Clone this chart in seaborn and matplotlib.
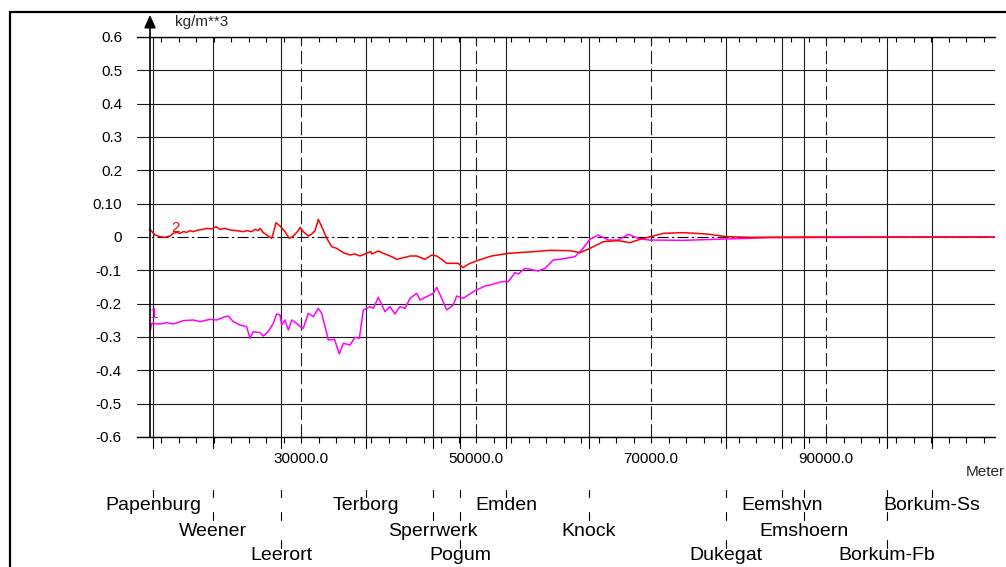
import numpy as np
import pandas as pd
import matplotlib
matplotlib.use("Agg")
import matplotlib.pyplot as plt
import matplotlib.transforms as mtransforms
from matplotlib.lines import Line2D
import seaborn as sns

# ---------------- data ----------------
red_x = [12740, 13310, 13890, 14460, 15030, 15410, 15790, 16170, 16550, 16940,
         17310, 17690, 18260, 18830, 19220, 19790, 20290, 20740, 21310, 21890,
         22650, 23410, 23790, 24370, 24740, 25120, 25310, 25690, 26260, 26650,
         26830, 27140, 27600, 28170, 28660, 29120, 29690, 29890, 30260, 30830,
         31220, 31600, 31980, 32370, 32940, 33510, 34080, 34830, 35600, 36170,
         36740, 37310, 37970, 38080, 38830, 39600, 40370, 40940, 41890, 42460,
         43220, 44170, 44940, 45510, 46080, 46650, 47980, 48480, 49310, 51030,
         51790, 53690, 56550, 58460, 60740, 61890, 63030, 64550, 66230, 67600,
         68740, 70260, 71410, 73690, 76370, 78650, 81310, 87030, 98460, 109310]
red_y = [0.023, 0.006, 0.001, -0.001, 0.003, 0.011, 0.014, 0.011, 0.016, 0.014,
         0.019, 0.016, 0.021, 0.023, 0.026, 0.024, 0.031, 0.023, 0.026, 0.021,
         0.019, 0.016, 0.019, 0.016, 0.023, 0.019, 0.026, 0.013, 0.003, -0.004,
         0.011, 0.043, 0.033, 0.016, -0.004, 0.003, 0.019, 0.029, 0.016, 0.003,
         0.009, 0.019, 0.053, 0.031, -0.004, -0.029, -0.034, -0.047, -0.054, -0.051,
         -0.057, -0.051, -0.044, -0.051, -0.042, -0.051, -0.059, -0.067, -0.061, -0.057,
         -0.057, -0.067, -0.054, -0.057, -0.067, -0.079, -0.079, -0.092, -0.079, -0.063,
         -0.057, -0.049, -0.044, -0.040, -0.041, -0.047, -0.034, -0.014, -0.011, -0.017,
         -0.007, 0.003, 0.011, 0.013, 0.009, 0.001, -0.001, 0.0, 0.0, 0.0]

mag_x = [12740, 12940, 13890, 14650, 15410, 16550, 17690, 18460, 19600, 20370,
         21120, 21690, 22260, 23030, 23790, 24170, 24550, 25310, 25690, 26260,
         26830, 27220, 27600, 27790, 28170, 28550, 28940, 29510, 29890, 30260,
         30830, 31410, 31980, 32370, 33120, 33830, 34380, 34830, 35600, 36170,
         36670, 37120, 37890, 38270, 38830, 39600, 40170, 40740, 41310, 41890,
         42460, 43220, 43600, 44360, 45120, 45510, 46080, 46650, 47410, 47790,
         48550, 49690, 51030, 51600, 52940, 53690, 54460, 54830, 55600, 57120,
         57890, 58830, 59790, 61310, 62080, 63030, 63980, 65120, 66260, 67410,
         68550, 69690, 73660, 78570, 83600, 92740, 109310]
mag_y = [-0.284, -0.259, -0.261, -0.257, -0.261, -0.251, -0.249, -0.254, -0.247, -0.249,
         -0.241, -0.237, -0.254, -0.264, -0.269, -0.304, -0.284, -0.287, -0.297, -0.284,
         -0.259, -0.231, -0.234, -0.264, -0.249, -0.279, -0.249, -0.259, -0.269, -0.274,
         -0.229, -0.239, -0.214, -0.229, -0.309, -0.307, -0.351, -0.319, -0.324, -0.301,
         -0.304, -0.219, -0.209, -0.214, -0.181, -0.224, -0.209, -0.231, -0.209, -0.214,
         -0.184, -0.169, -0.189, -0.179, -0.169, -0.151, -0.184, -0.219, -0.204, -0.177,
         -0.184, -0.164, -0.147, -0.144, -0.134, -0.134, -0.107, -0.111, -0.094, -0.102,
         -0.094, -0.069, -0.066, -0.059, -0.039, -0.007, 0.006, -0.009, -0.009, 0.008,
         -0.004, -0.009, -0.010, -0.006, -0.002, -0.001, 0.0]

station_names = ["Papenburg", "Weener", "Leerort", "Terborg", "Sperrwerk", "Pogum",
                 "Emden", "Knock", "Dukegat", "Eemshvn", "Emshoern", "Borkum-Fb",
                 "Borkum-Ss"]
station_x = [13140, 19900, 27710, 37390, 45120, 48210, 53430, 62910, 78540,
             84940, 87490, 96940, 102080]
station_row = [1, 2, 3, 1, 2, 3, 1, 2, 3, 1, 2, 3, 1]

major_x = [30000, 50000, 70000, 90000]
major_labels = ["30000.0", "50000.0", "70000.0", "90000.0"]
ytick_vals = [0.6, 0.5, 0.4, 0.3, 0.2, 0.1, 0.0, -0.1, -0.2, -0.3, -0.4, -0.5, -0.6]
ytick_labels = ["0.6", "0.5", "0.4", "0.3", "0.2", "0.10", "0", "-0.1", "-0.2",
                "-0.3", "-0.4", "-0.5", "-0.6"]
series_colors = {"1": "#ff00ff", "2": "#ff0000"}

df = pd.concat([
    pd.DataFrame({"x": mag_x, "val": mag_y, "series": "1"}),
    pd.DataFrame({"x": red_x, "val": red_y, "series": "2"}),
], ignore_index=True)

# ---------------- figure ----------------
W, H = 1006, 567
sns.set_theme(style="white")
plt.rcParams["font.family"] = ["Liberation Sans", "DejaVu Sans"]

def fy(py):
    return 1 - py / H

fig = plt.figure(figsize=(W / 100, H / 100), dpi=100)
ax = fig.add_axes([137 / W, fy(437), (995 - 137) / W, 400 / H])

x_axis_pos = 12743
ax.set_xlim(11257, 109314)
ax.set_ylim(-0.6, 0.6)

# horizontal grid
for v in ytick_vals:
    if v == 0:
        ax.axhline(0, color="black", lw=0.8, ls=(0, (10, 3, 2, 3)), zorder=1)
    else:
        ax.axhline(v, color="#1a1a1a", lw=0.8, zorder=1)

# vertical station lines and dashed km lines
for sx in station_x:
    ax.axvline(sx, color="#1a1a1a", lw=0.8, zorder=1)
for dx in major_x:
    ax.axvline(dx, color="#1a1a1a", lw=0.8, ls=(0, (12, 4)), zorder=1)

# data
sns.lineplot(data=df, x="x", y="val", hue="series", palette=series_colors,
             estimator=None, sort=False, legend=False, lw=1.1, ax=ax, zorder=3)
ax.text(15600, 0.027, "2", color=series_colors["2"], fontsize=11,
        ha="center", va="center", zorder=4)
ax.text(13200, -0.232, "1", color=series_colors["1"], fontsize=11,
        ha="center", va="center", zorder=4)

ax.set_xlabel("")
ax.set_ylabel("")

# spines
for s in ["left", "right"]:
    ax.spines[s].set_visible(False)
for s in ["top", "bottom"]:
    ax.spines[s].set_color("black")
    ax.spines[s].set_linewidth(1.0)

# ticks
ax.set_xticks(major_x, major_labels)
ax.set_xticks(np.arange(14000, 108001, 2000), minor=True)
ax.tick_params(axis="x", which="both", direction="out", length=4.3, width=0.8,
               bottom=True, top=False, colors="black", labelsize=11, pad=6.5)
ax.set_yticks(ytick_vals, ytick_labels)
ax.tick_params(axis="y", length=0, pad=10.8, labelsize=11, colors="black")

secax = ax.secondary_xaxis("top")
secax.set_xticks(np.arange(14000, 108001, 2000))
secax.set_xticklabels([])
secax.tick_params(direction="in", length=3.6, width=0.8, colors="black")
secax.spines["top"].set_visible(False)

# y axis with arrow
trans_fig = mtransforms.blended_transform_factory(ax.transData, fig.transFigure)
trans_ax = mtransforms.blended_transform_factory(ax.transData, ax.transAxes)
ax.annotate("", xy=(x_axis_pos, fy(15)), xycoords=trans_fig,
            xytext=(x_axis_pos, -0.6), textcoords="data",
            arrowprops=dict(arrowstyle="-|>,head_length=0.55,head_width=0.25",
                            color="black", lw=1.2, shrinkA=0, shrinkB=0,
                            mutation_scale=14),
            annotation_clip=False)
fig.text(175 / W, fy(22), "kg/m**3", fontsize=11, ha="left", va="center")

# station long ticks under the axis
for sx in station_x:
    ax.plot([sx, sx], [0, -11 / 400], transform=trans_ax, clip_on=False,
            color="black", lw=0.8)

# station labels
row_y = {1: 505, 2: 531, 3: 556}
row_tick = {1: (490, 497), 2: (512, 520), 3: (540, 548)}
for name, sx, r in zip(station_names, station_x, station_row):
    for k in range(1, r + 1):
        a, b = row_tick[k]
        ax.plot([sx, sx], [fy(a), fy(b)], transform=trans_fig, clip_on=False,
                color="black", lw=0.8)
    ax.text(sx, fy(row_y[r]), name, transform=trans_fig, ha="center",
            va="center", fontsize=14, color="black")

fig.text(1005 / W, fy(472), "Meter", fontsize=11, ha="right", va="center")

# outer frame
fig.add_artist(Line2D([9.5 / W, 9.5 / W], [fy(12), 0], transform=fig.transFigure,
                      color="black", lw=1.6))
fig.add_artist(Line2D([9.5 / W, 1], [fy(12), fy(12)], transform=fig.transFigure,
                      color="black", lw=1.6))

fig.savefig("out.png", dpi=100)
